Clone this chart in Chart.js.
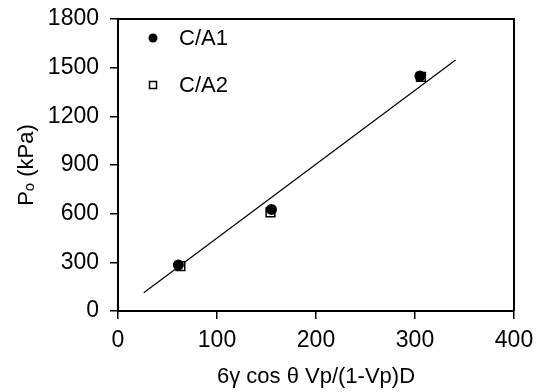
<!DOCTYPE html>
<html>
<head>
<meta charset="utf-8">
<script src="https://cdn.jsdelivr.net/npm/chart.js@4/dist/chart.umd.min.js"></script>
<style>
  body { margin: 0; background: #fff; }
  canvas { display: block; }
</style>
</head>
<body>
<canvas id="poChart" width="539" height="392"></canvas>
<script>
// --- DATA ---
const seriesNames = ['C/A1', 'C/A2'];
const ca1X = [61, 155, 305];
const ca1Y = [284, 626, 1448];
const ca2X = [63, 154, 306];
const ca2Y = [276, 608, 1443];
const fitX = [26, 341];
const fitY = [113, 1547];
const xTicks = [0, 100, 200, 300, 400];
const yTicks = [0, 300, 600, 900, 1200, 1500, 1800];

const FONT = "'Liberation Sans', Arial, 'DejaVu Sans', sans-serif";

function toPoints(xs, ys) {
  return xs.map((x, i) => ({ x: x, y: ys[i] }));
}

// --- FRAME (top + right edges of the box) ---
const framePlugin = {
  id: 'frame',
  afterDraw(chart) {
    const a = chart.chartArea;
    const c = chart.ctx;
    c.save();
    c.strokeStyle = '#000';
    c.lineWidth = 2;
    c.beginPath();
    c.moveTo(a.left, a.top);
    c.lineTo(a.right, a.top);
    c.lineTo(a.right, a.bottom);
    c.stroke();
    c.restore();
  }
};

// --- LEGEND inside the plot ---
const legendPlugin = {
  id: 'innerLegend',
  afterDraw(chart) {
    const a = chart.chartArea;
    const c = chart.ctx;
    c.save();
    c.font = '22px ' + FONT;
    c.fillStyle = '#000';
    c.textBaseline = 'middle';
    seriesNames.forEach((name, i) => {
      const mx = a.left + 35;
      const my = a.top + 19 + i * 47;
      if (i === 0) {
        c.beginPath();
        c.arc(mx, my, 4.5, 0, Math.PI * 2);
        c.fill();
      } else {
        c.lineWidth = 1.5;
        c.strokeStyle = '#000';
        c.strokeRect(mx - 3.5, my - 3.5, 7, 7);
      }
      c.fillText(name, a.left + 61, my + 1);
    });
    c.restore();
  }
};

const plainTick = (v) => String(v);

const ctx = document.getElementById('poChart');
const poChart = new Chart(ctx, {
  type: 'scatter',
  data: {
    datasets: [
      {
        label: seriesNames[0],
        data: toPoints(ca1X, ca1Y),
        pointStyle: 'circle',
        pointRadius: 5.5,
        backgroundColor: '#000',
        borderColor: '#000',
        borderWidth: 0
      },
      {
        label: seriesNames[1],
        data: toPoints(ca2X, ca2Y),
        pointStyle: 'rect',
        pointRadius: 6.2,
        backgroundColor: '#fff',
        borderColor: '#000',
        borderWidth: 1.5
      },
      {
        label: 'fit',
        data: toPoints(fitX, fitY),
        showLine: true,
        borderColor: '#000',
        borderWidth: 1.2,
        pointRadius: 0
      }
    ]
  },
  options: {
    responsive: false,
    animation: false,
    layout: { padding: { top: 19, right: 25, left: 0, bottom: 0 } },
    plugins: {
      legend: { display: false },
      tooltip: { enabled: false }
    },
    scales: {
      x: {
        type: 'linear',
        min: 0,
        max: 400,
        afterBuildTicks: (s) => { s.ticks = xTicks.map(v => ({ value: v })); },
        afterFit: (s) => { s.height = 81; s.paddingLeft = 0; s.paddingRight = 0; },
        ticks: { color: '#000', font: { family: FONT, size: 23 }, padding: 8, callback: plainTick },
        grid: { drawOnChartArea: false, color: '#000', lineWidth: 1.5, tickLength: 8 },
        border: { display: true, color: '#000', width: 2 },
        title: {
          display: true,
          text: '6\u03b3 cos \u03b8 Vp/(1-Vp)D',
          color: '#000',
          font: { family: FONT, size: 22 },
          padding: { top: 0, bottom: 2 }
        }
      },
      y: {
        type: 'linear',
        min: 0,
        max: 1800,
        afterBuildTicks: (s) => { s.ticks = yTicks.map(v => ({ value: v })); },
        afterFit: (s) => { s.width = 118; s.paddingTop = 0; s.paddingBottom = 0; },
        ticks: { color: '#000', font: { family: FONT, size: 23 }, padding: 11, callback: plainTick },
        grid: { drawOnChartArea: false, color: '#000', lineWidth: 1.5, tickLength: 8 },
        border: { display: true, color: '#000', width: 2 },
        title: {
          display: true,
          text: 'P\u2092 (kPa)',
          color: '#000',
          font: { family: FONT, size: 22 },
          padding: { top: 14, bottom: 0 }
        }
      }
    }
  },
  plugins: [framePlugin, legendPlugin]
});
</script>
</body>
</html>
